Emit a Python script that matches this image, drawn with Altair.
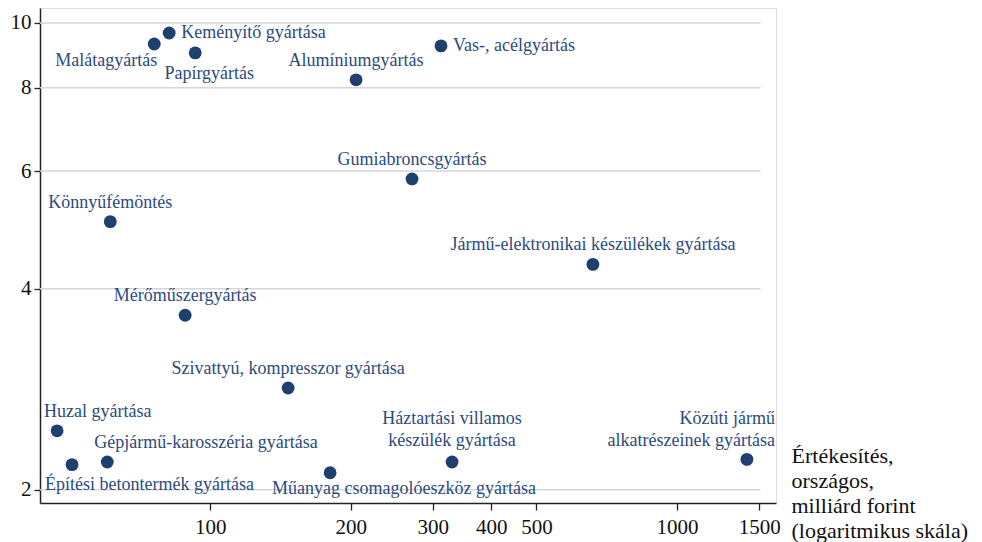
import altair as alt
import pandas as pd

# ---- data ----
labels = [
    "Keményítő gyártása", "Malátagyártás", "Papírgyártás", "Alumíniumgyártás",
    "Vas-, acélgyártás", "Gumiabroncsgyártás", "Könnyűfémöntés",
    "Jármű-elektronikai készülékek gyártása", "Mérőműszergyártás",
    "Szivattyú, kompresszor gyártása", "Huzal gyártása",
    "Gépjármű-karosszéria gyártása", "Építési betontermék gyártása",
    "Műanyag csomagolóeszköz gyártása", "Háztartási villamos\nkészülék gyártása",
    "Közúti jármű\nalkatrészeinek gyártása",
]
sales = [81.7, 75.9, 92.9, 205.4, 312.3, 270.7, 61.1, 660.7, 88.4, 146.9,
         47.0, 60.2, 50.6, 180.7, 329.8, 1412]
yvals = [9.66, 9.30, 9.02, 8.22, 9.24, 5.84, 5.04, 4.35, 3.65, 2.84,
         2.45, 2.20, 2.18, 2.12, 2.20, 2.22]
placement = ["e", "sw", "s", "n", "e", "n", "n", "n", "n", "n",
             "ne", "ne", "se", "se2", "n2", "nw2"]

x_ticks = [100, 200, 300, 400, 500, 1000, 1500]
y_ticks = [2, 4, 6, 8, 10]
x_title = ["Értékesítés,", "országos,", "milliárd forint", "(logaritmikus skála)"]

# ---- layout / style ----
X_MIN, X_MAX, GRID_END = 43.2, 1630, 1510
Y_MIN, Y_MAX = 1.91, 10.53

styles = {
    "e": dict(align="left", dx=12, dy=0),
    "sw": dict(align="right", dx=3, dy=17),
    "s": dict(align="center", dx=14, dy=21),
    "n": dict(align="center", dx=0, dy=-19),
    "ne": dict(align="left", dx=-13, dy=-19),
    "se": dict(align="left", dx=-27, dy=20),
    "se2": dict(align="left", dx=-58, dy=16),
    "n2": dict(align="center", dx=0, dy=-43),
    "nw2": dict(align="right", dx=28, dy=-40),
}

df = pd.DataFrame({"label": labels, "sales": sales, "y": yvals, "pos": placement})
grid_df = pd.DataFrame({"y": y_ticks, "x0": X_MIN, "x1": GRID_END})

FONT = "Liberation Serif"
POINT = "#1f3f6f"
TEXT = "#2c4b7c"
AXIS = "#222222"

xscale = alt.Scale(type="log", domain=[X_MIN, X_MAX], nice=False)
yscale = alt.Scale(type="log", domain=[Y_MIN, Y_MAX], nice=False)

xenc = alt.X("sales:Q", scale=xscale, axis=alt.Axis(
    values=x_ticks, format="d", grid=False, title=x_title,
    titleX=751, titleY=-41, titleAlign="left", titleBaseline="alphabetic",
    titleAnchor="start", titleAngle=0, titleFontSize=22, titleFontWeight="normal",
    titleLineHeight=25, titleFont=FONT, titleColor="#111111",
    labelFont=FONT, labelFontSize=21, labelColor="#111111", labelPadding=6,
    tickSize=7, tickColor=AXIS, tickWidth=1.3,
    domainColor=AXIS, domainWidth=1.5, labelFlush=False, labelOverlap=False,
))
yenc = alt.Y("y:Q", scale=yscale, axis=alt.Axis(
    values=y_ticks, format="d", grid=False,
    title=None, labelFont=FONT, labelFontSize=21, labelColor="#111111",
    labelPadding=3, tickSize=6, tickColor=AXIS, tickWidth=1.3,
    domainColor=AXIS, domainWidth=1.5, labelFlush=False, labelOverlap=False,
))

grid = alt.Chart(grid_df).mark_rule(color="#d6d6d6", strokeWidth=1.5).encode(
    x=alt.X("x0:Q", scale=xscale), x2="x1:Q", y=alt.Y("y:Q", scale=yscale)
)

base = alt.Chart(df)
points = base.mark_circle(size=165, color=POINT, opacity=1).encode(x=xenc, y=yenc)

layers = [grid, points]
for key, st in styles.items():
    layers.append(
        base.transform_filter(alt.datum.pos == key)
        .mark_text(font=FONT, fontSize=18, color=TEXT, baseline="middle",
                   lineBreak="\n", lineHeight=22, **st)
        .encode(x=alt.X("sales:Q", scale=xscale), y=alt.Y("y:Q", scale=yscale),
                text="label:N")
    )

chart = alt.layer(*layers).properties(
    width=736, height=495,
    autosize=alt.AutoSizeParams(type="none"),
    padding={"left": 32, "top": 0, "right": 198, "bottom": 39},
).configure_view(stroke=None).configure(background="white")

chart.save("out.html", embed_options={"renderer": "svg", "actions": False})
